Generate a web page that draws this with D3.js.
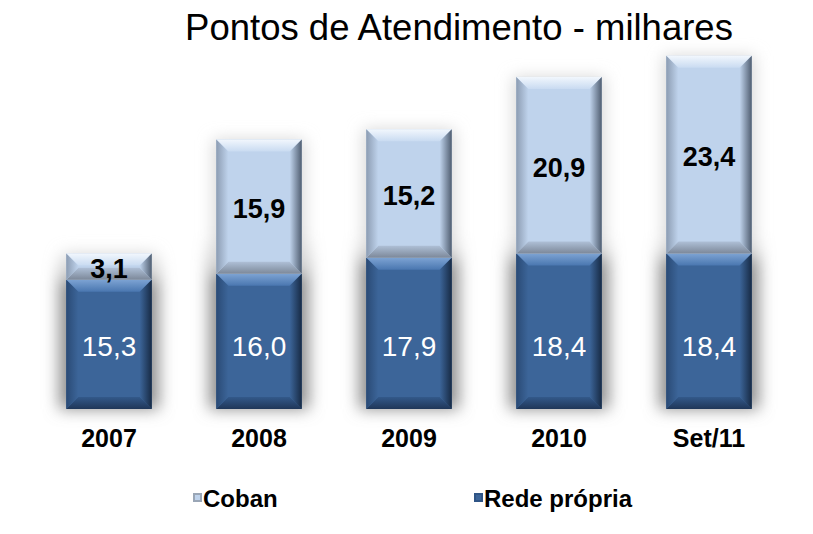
<!DOCTYPE html>
<html>
<head>
<meta charset="utf-8">
<script src="https://cdn.jsdelivr.net/npm/d3@7"></script>
<style>
  body { margin: 0; background: #ffffff; }
  svg { display: block; font-family: "Liberation Sans", Arial, sans-serif; }
</style>
</head>
<body>
<div class="chart"></div>
<script>
const categories = ['2007', '2008', '2009', '2010', 'Set/11']
const redePropria = [15.3, 16.0, 17.9, 18.4, 18.4]
const coban = [3.1, 15.9, 15.2, 20.9, 23.4]
const seriesNames = ['Coban', 'Rede própria']
const title = 'Pontos de Atendimento - milhares'

const fmt = v => v.toFixed(1).replace('.', ',')

const width = 813, height = 534
const svg = d3.select('.chart').append('svg')
  .attr('width', width)
  .attr('height', height)

const defs = svg.append('defs')

defs.append('filter').attr('id', 'blur')
  .attr('x', '-50%').attr('y', '-20%').attr('width', '200%').attr('height', '140%')
  .append('feGaussianBlur').attr('stdDeviation', 8)

// fade the shadow in from the top
const fade = defs.append('linearGradient').attr('id', 'shadow-fade')
  .attr('x1', 0).attr('y1', 0).attr('x2', 0).attr('y2', 1)
fade.append('stop').attr('offset', 0).attr('stop-color', '#8c8c8c').attr('stop-opacity', 0)
fade.append('stop').attr('offset', 0.18).attr('stop-color', '#8c8c8c').attr('stop-opacity', 1)
fade.append('stop').attr('offset', 1).attr('stop-color', '#8c8c8c').attr('stop-opacity', 1)

const themes = {
  light: { base: '#bfd3ec', top: ['#f2f7fd', '#c9dbf1'], left: ['#8c9cb2', '#bfd3ec'], right: ['#bfd3ec', '#4f5d70'], bottom: ['#aebfd6', '#7c8899'], text: '#000' },
  dark: { base: '#3c6599', top: ['#7da3d3', '#4a77b0'], left: ['#2a4a75', '#3c6599'], right: ['#3c6599', '#172a44'], bottom: ['#33598a', '#1f3658'], text: '#fff' }
}

const grad = (id, c, dir) => {
  const g = defs.append('linearGradient').attr('id', id)
  if (dir === 'v') g.attr('x1', 0).attr('y1', 0).attr('x2', 0).attr('y2', 1)
  else g.attr('x1', 0).attr('y1', 0).attr('x2', 1).attr('y2', 0)
  g.append('stop').attr('offset', 0).attr('stop-color', c[0])
  g.append('stop').attr('offset', 1).attr('stop-color', c[1])
}
Object.entries(themes).forEach(([k, t]) => {
  grad(k + '-top', t.top, 'v')
  grad(k + '-left', t.left, 'h')
  grad(k + '-right', t.right, 'h')
  grad(k + '-bottom', t.bottom, 'v')
})

const x = d3.scaleBand()
  .domain(categories)
  .range([34, 784])
  .paddingInner(0.43)
  .paddingOuter(0.215)

const y = d3.scaleLinear()
  .domain([0, 48.4])
  .range([409, 0])

// title
svg.append('text')
  .attr('x', 459)
  .attr('y', 40)
  .attr('text-anchor', 'middle')
  .attr('font-size', 36.5)
  .attr('fill', '#000')
  .text(title)

const rows = categories.map((c, i) => ({ cat: c, rede: redePropria[i], coban: coban[i] }))

// shadows
const shadow = svg.append('g').attr('filter', 'url(#blur)')
rows.forEach(d => {
  const top = Math.max(y(d.rede + d.coban), y(20.5))
  shadow.append('rect')
    .attr('x', x(d.cat) - 7)
    .attr('width', x.bandwidth() + 14)
    .attr('y', top)
    .attr('height', y(0) - top)
    .attr('fill', 'url(#shadow-fade)')
  shadow.append('rect')
    .attr('x', x(d.cat) - 3)
    .attr('width', x.bandwidth() + 6)
    .attr('y', y(d.rede + d.coban))
    .attr('height', y(d.rede) - y(d.rede + d.coban))
    .attr('fill', '#d8d8d8')
})

const bevelBox = (g, x0, y0, w, h, key) => {
  const t = themes[key]
  const b = Math.min(12, h / 2.2)
  const pts = a => a.map(p => p.join(',')).join(' ')
  g.append('rect').attr('x', x0).attr('y', y0).attr('width', w).attr('height', h).attr('fill', t.base)
  g.append('polygon').attr('points', pts([[x0, y0], [x0 + w, y0], [x0 + w - b, y0 + b], [x0 + b, y0 + b]])).attr('fill', `url(#${key}-top)`)
  g.append('polygon').attr('points', pts([[x0, y0 + h], [x0 + w, y0 + h], [x0 + w - b, y0 + h - b], [x0 + b, y0 + h - b]])).attr('fill', `url(#${key}-bottom)`)
  g.append('polygon').attr('points', pts([[x0, y0], [x0 + b, y0 + b], [x0 + b, y0 + h - b], [x0, y0 + h]])).attr('fill', `url(#${key}-left)`)
  g.append('polygon').attr('points', pts([[x0 + w, y0], [x0 + w - b, y0 + b], [x0 + w - b, y0 + h - b], [x0 + w, y0 + h]])).attr('fill', `url(#${key}-right)`)
}

const bars = svg.append('g')
rows.forEach(d => {
  const g = bars.append('g')
  bevelBox(g, x(d.cat), y(d.rede), x.bandwidth(), y(0) - y(d.rede), 'dark')
  bevelBox(g, x(d.cat), y(d.rede + d.coban), x.bandwidth(), y(d.rede) - y(d.rede + d.coban), 'light')
})

// value labels
const labels = svg.append('g').attr('text-anchor', 'middle')
rows.forEach(d => {
  const cx = x(d.cat) + x.bandwidth() / 2
  labels.append('text')
    .attr('x', cx)
    .attr('y', y(7.5))
    .attr('dy', '0.36em')
    .attr('font-size', 28)
    .attr('fill', themes.dark.text)
    .text(fmt(d.rede))
  labels.append('text')
    .attr('x', cx)
    .attr('y', (y(d.rede) + y(d.rede + d.coban)) / 2 + 2)
    .attr('dy', '0.36em')
    .attr('font-size', 27)
    .attr('font-weight', 'bold')
    .attr('fill', themes.light.text)
    .text(fmt(d.coban))
})

// x axis
const xAxis = svg.append('g')
  .attr('transform', `translate(0,${y(0)})`)
  .call(d3.axisBottom(x).tickSize(0).tickPadding(20))
xAxis.select('.domain').remove()
xAxis.selectAll('text')
  .attr('font-family', '"Liberation Sans", Arial, sans-serif')
  .attr('font-size', 25)
  .attr('font-weight', 'bold')
  .attr('fill', '#000')

// legend
const legendX = [193, 474]
const legend = svg.append('g')
seriesNames.forEach((name, i) => {
  const key = i === 0 ? 'light' : 'dark'
  const g = legend.append('g').attr('transform', `translate(${legendX[i]},493)`)
  g.append('rect').attr('width', 9).attr('height', 9).attr('fill', key === 'light' ? '#9aa6b6' : '#2f5586')
  g.append('rect').attr('x', 2).attr('y', 2).attr('width', 5).attr('height', 5).attr('fill', themes[key].base)
  g.append('text')
    .attr('x', 10)
    .attr('y', 14)
    .attr('font-size', 24)
    .attr('font-weight', 'bold')
    .attr('fill', '#000')
    .text(name)
})
</script>
</body>
</html>
